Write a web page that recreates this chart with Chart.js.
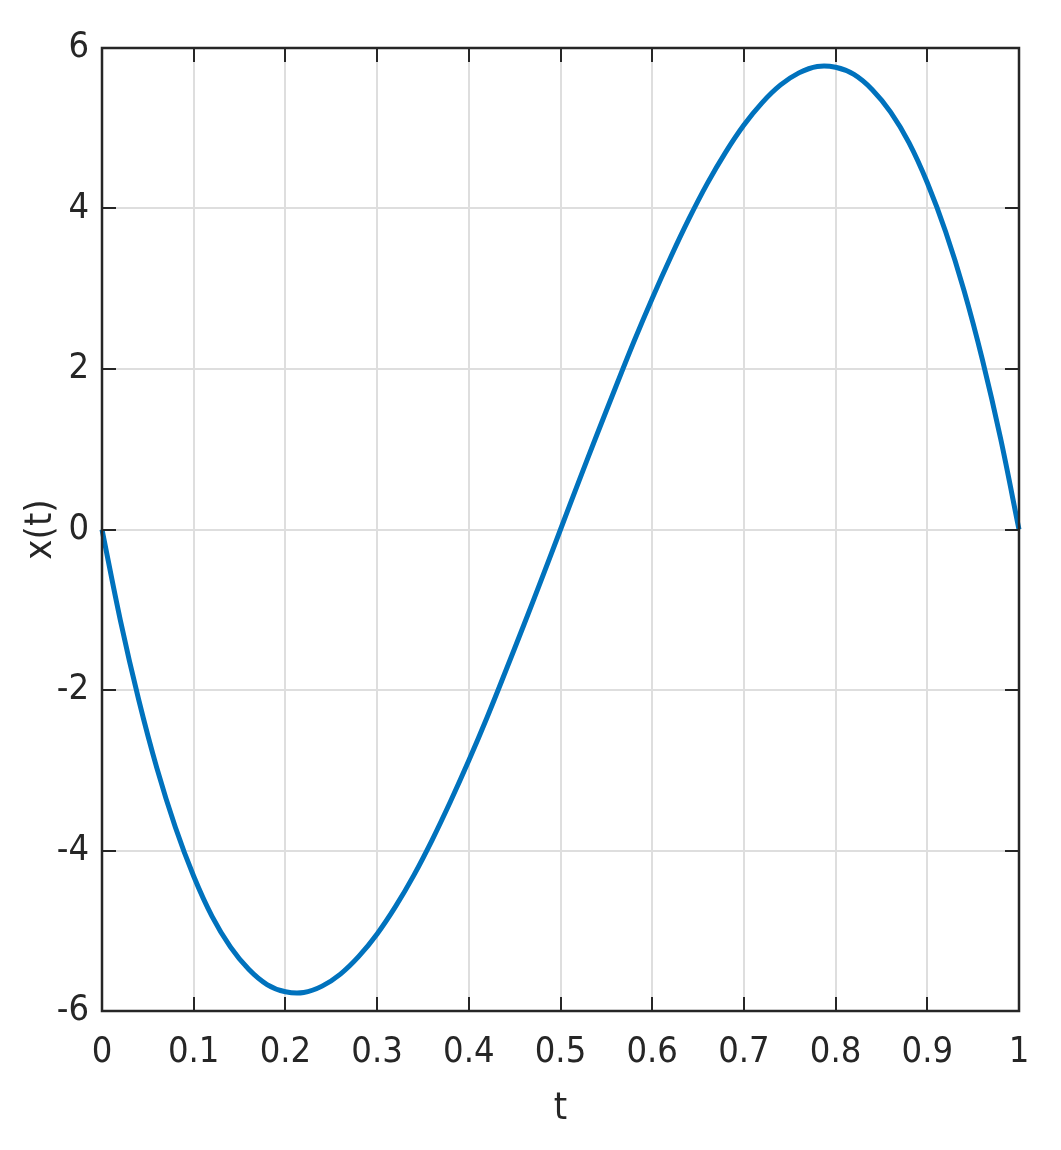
<!DOCTYPE html>
<html>
<head>
<meta charset="utf-8">
<script src="https://cdn.jsdelivr.net/npm/chart.js@4/dist/chart.umd.min.js"></script>
<style>
html,body{margin:0;padding:0;background:#fff;}
canvas{display:block;}
</style>
</head>
<body>
<canvas id="c" width="1061" height="1150" style="width:1061px;height:1150px"></canvas>
<script>
const tValues = [0,0.02,0.04,0.06,0.08,0.10,0.12,0.14,0.16,0.18,0.20,0.22,0.24,0.26,0.28,0.30,0.32,0.34,0.36,0.38,0.40,0.42,0.44,0.46,0.48,0.50,0.52,0.54,0.56,0.58,0.60,0.62,0.64,0.66,0.68,0.70,0.72,0.74,0.76,0.78,0.80,0.82,0.84,0.86,0.88,0.90,0.92,0.94,0.96,0.98,1.00];
const xValues = [0,-1.13,-2.12,-2.98,-3.71,-4.32,-4.82,-5.20,-5.48,-5.67,-5.76,-5.77,-5.69,-5.54,-5.32,-5.04,-4.70,-4.31,-3.87,-3.39,-2.88,-2.34,-1.77,-1.19,-0.60,0,0.60,1.19,1.77,2.34,2.88,3.39,3.87,4.31,4.70,5.04,5.32,5.54,5.69,5.77,5.76,5.67,5.48,5.20,4.82,4.32,3.71,2.98,2.12,1.13,0];
const xTickLabels = ['0','0.1','0.2','0.3','0.4','0.5','0.6','0.7','0.8','0.9','1'];
const yTickLabels = ['-6','-4','-2','0','2','4','6'];
const xTitle = 't';
const yTitle = 'x(t)';

const FONT = "'DejaVu Sans', sans-serif";
const TXT = '#262626';

const boxPlugin = {
  id: 'box',
  afterDatasetsDraw(chart) {
    const {ctx, chartArea: a, scales} = chart;
    ctx.save();
    ctx.strokeStyle = TXT;
    ctx.lineWidth = 2;
    const L = 14;
    ctx.beginPath();
    scales.x.ticks.forEach(t => {
      const px = Math.round(scales.x.getPixelForValue(t.value));
      ctx.moveTo(px, a.bottom); ctx.lineTo(px, a.bottom - L);
      ctx.moveTo(px, a.top); ctx.lineTo(px, a.top + L);
    });
    scales.y.ticks.forEach(t => {
      const py = Math.round(scales.y.getPixelForValue(t.value));
      ctx.moveTo(a.left, py); ctx.lineTo(a.left + L, py);
      ctx.moveTo(a.right, py); ctx.lineTo(a.right - L, py);
    });
    ctx.stroke();
    ctx.lineWidth = 2.5;
    ctx.strokeRect(a.left, a.top, a.right - a.left, a.bottom - a.top);
    ctx.restore();
  }
};

new Chart(document.getElementById('c'), {
  type: 'line',
  data: {
    datasets: [{
      data: tValues.map((t, i) => ({x: t, y: xValues[i]})),
      borderColor: '#0072BD',
      borderWidth: 5,
      pointRadius: 0,
      tension: 0.35,
      fill: false,
      clip: 4
    }]
  },
  options: {
    responsive: false,
    animation: false,
    devicePixelRatio: 1,
    layout: {padding: {left: 0, right: 42, top: 48, bottom: 0}},
    plugins: {legend: {display: false}, tooltip: {enabled: false}},
    scales: {
      x: {
        type: 'linear', min: 0, max: 1,
        afterFit(s) { s.height = 139; },
        ticks: {
          stepSize: 0.1, color: TXT, padding: 20, maxRotation: 0,
          font: {family: FONT, size: 36, weight: 'ultra-condensed'},
          callback: (v, i) => xTickLabels[i]
        },
        grid: {color: '#dedede', lineWidth: 2, drawTicks: false},
        border: {display: false},
        title: {display: true, text: xTitle, color: TXT, font: {family: FONT, size: 38, weight: 'ultra-condensed'}, padding: {top: 0, bottom: 18}}
      },
      y: {
        type: 'linear', min: -6, max: 6,
        afterFit(s) { s.width = 102; },
        ticks: {
          stepSize: 2, color: TXT, padding: 13,
          font: {family: FONT, size: 36, weight: 'ultra-condensed'},
          callback: (v, i) => yTickLabels[i]
        },
        grid: {color: '#dedede', lineWidth: 2, drawTicks: false},
        border: {display: false},
        title: {display: true, text: yTitle, color: TXT, font: {family: FONT, size: 38, weight: 'ultra-condensed'}, padding: {top: 18, bottom: 0}}
      }
    }
  },
  plugins: [boxPlugin]
});
</script>
</body>
</html>
